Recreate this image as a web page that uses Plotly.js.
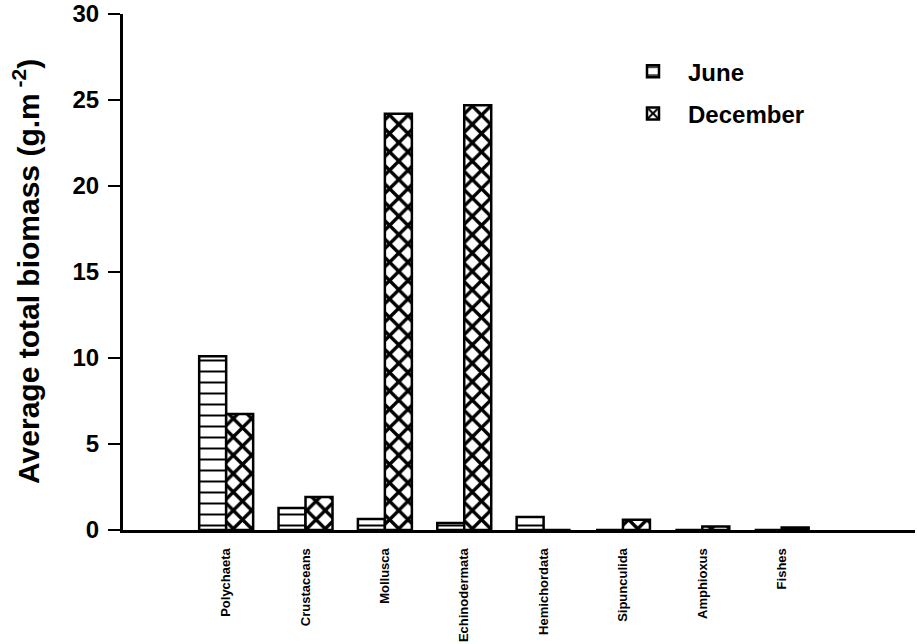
<!DOCTYPE html>
<html>
<head>
<meta charset="utf-8">
<script src="https://cdn.plot.ly/plotly-3.0.1.min.js"></script>
<style>html,body{margin:0;padding:0;background:#fff;}#chart{width:917px;height:644px;}</style>
</head>
<body>
<div id="chart"></div>
<script>
const categories = ['Polychaeta','Crustaceans','Mollusca','Echinodermata','Hemichordata','Sipunculida','Amphioxus','Fishes'];
const june = [10.1, 1.28, 0.64, 0.4, 0.75, 0, 0, 0];
const december = [6.75, 1.92, 24.2, 24.7, 0, 0.6, 0.2, 0.15];
const yTicks = [0, 5, 10, 15, 20, 25, 30];
const yTitle = 'Average total biomass (g.m<sup> -2</sup>)';

const FONT = 'Liberation Sans, Arial, Helvetica, sans-serif';

const traces = [
  {
    type: 'bar', name: 'June', x: categories, y: june, legendgroup: 'a',
    marker: {color: '#ffffff', line: {color: '#000', width: 2.5},
      pattern: {shape: '-', fgcolor: '#000', bgcolor: '#fff', size: 11, solidity: 0.18}}
  },
  {
    type: 'bar', name: 'December', x: categories, y: december, legendgroup: 'b',
    marker: {color: '#ffffff', line: {color: '#000', width: 2.5},
      pattern: {shape: 'x', fgcolor: '#000', bgcolor: '#fff', size: 13, solidity: 0.45}}
  }
];

const layout = {
  width: 917, height: 644,
  margin: {l: 123, r: 2, t: 14, b: 114},
  paper_bgcolor: '#fff', plot_bgcolor: '#fff',
  barmode: 'group', bargap: 0.32, bargroupgap: 0,
  showlegend: true,
  legend: {x: 0.625, y: 0.932, xanchor: 'left', yanchor: 'top',
    font: {family: FONT, size: 24, color: '#000', weight: 'bold'},
    itemwidth: 60, tracegroupgap: 8, bgcolor: 'rgba(0,0,0,0)'},
  xaxis: {type: 'category', range: [-1.3, 8.68], showline: true, linecolor: '#000', linewidth: 3,
    ticks: '', tickangle: -90, showgrid: false, zeroline: false, ticklabelstandoff: 10,
    tickfont: {family: FONT, size: 13, color: '#000', weight: 'bold'}},
  yaxis: {range: [0, 30], tickvals: yTicks, ticktext: yTicks.map(String), showline: true, linecolor: '#000', linewidth: 3,
    ticks: 'outside', ticklen: 12, tickwidth: 2, tickcolor: '#000', showgrid: false, zeroline: false,
    ticklabelstandoff: 4,
    tickfont: {family: FONT, size: 24, color: '#000', weight: 'bold'}},
  annotations: [{
    text: yTitle, xref: 'paper', yref: 'paper', x: -0.1225, y: 0.502,
    xanchor: 'center', yanchor: 'middle', textangle: -90, showarrow: false,
    font: {family: FONT, size: 30, color: '#000', weight: 'bold'}
  }]
};

Plotly.newPlot('chart', traces, layout, {displayModeBar: false, staticPlot: true});
</script>
</body>
</html>
